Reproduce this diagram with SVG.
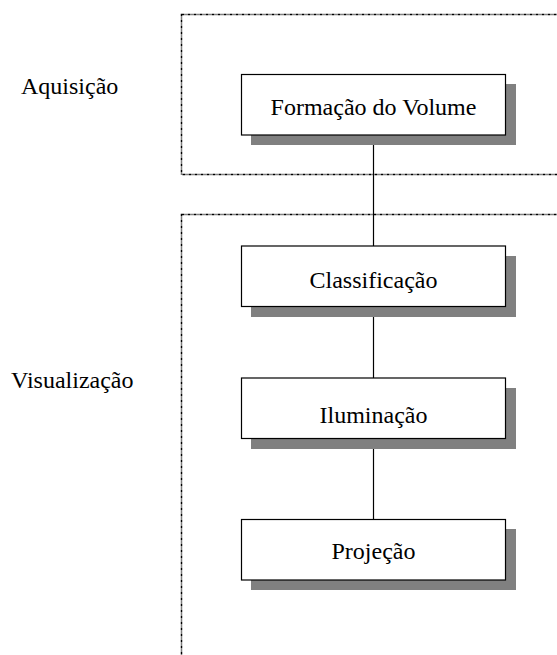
<svg xmlns="http://www.w3.org/2000/svg" width="557" height="655" viewBox="0 0 557 655">
<style>
.grp{fill:none;stroke:#000;stroke-width:1.5;stroke-dasharray:3 1 1 1}
.shadow{fill:#808080}
.box{fill:#fff;stroke:#000;stroke-width:1.2}
.t{font-family:"Liberation Serif","Times New Roman",serif;font-size:24px;fill:#000}
.lbl{text-anchor:middle}
.conn{stroke:#000;stroke-width:1.2;fill:none}
</style>
<rect width="557" height="655" fill="#fff"/>
<g id="groups">
<rect class="grp" x="181.5" y="14.5" width="390" height="160"/>
<rect class="grp" x="181.5" y="214.5" width="390" height="460"/>
</g>
<text class="t" x="21" y="94">Aquisição</text>
<text class="t" x="11" y="388">Visualização</text>
<g id="connectors">
<line class="conn" x1="373.5" y1="135" x2="373.5" y2="246"/>
<line class="conn" x1="373.5" y1="307" x2="373.5" y2="378"/>
<line class="conn" x1="373.5" y1="438" x2="373.5" y2="519"/>
</g>
<g id="formacao">
<rect class="shadow" x="251" y="84" width="265" height="61"/>
<rect class="box" x="241.5" y="74.5" width="264" height="60.5"/>
<text class="t lbl" x="373.5" y="115">Formação do Volume</text>
</g>
<g id="classificacao">
<rect class="shadow" x="251" y="256" width="265" height="61"/>
<rect class="box" x="241.5" y="246" width="264" height="60.5"/>
<text class="t lbl" x="373.5" y="287.5">Classificação</text>
</g>
<g id="iluminacao">
<rect class="shadow" x="251" y="388" width="265" height="61"/>
<rect class="box" x="241.5" y="378" width="264" height="60.5"/>
<text class="t lbl" x="373.5" y="422.5">Iluminação</text>
</g>
<g id="projecao">
<rect class="shadow" x="251" y="529" width="265" height="61"/>
<rect class="box" x="241.5" y="519.5" width="264" height="60.5"/>
<text class="t lbl" x="373.5" y="559">Projeção</text>
</g>
</svg>
